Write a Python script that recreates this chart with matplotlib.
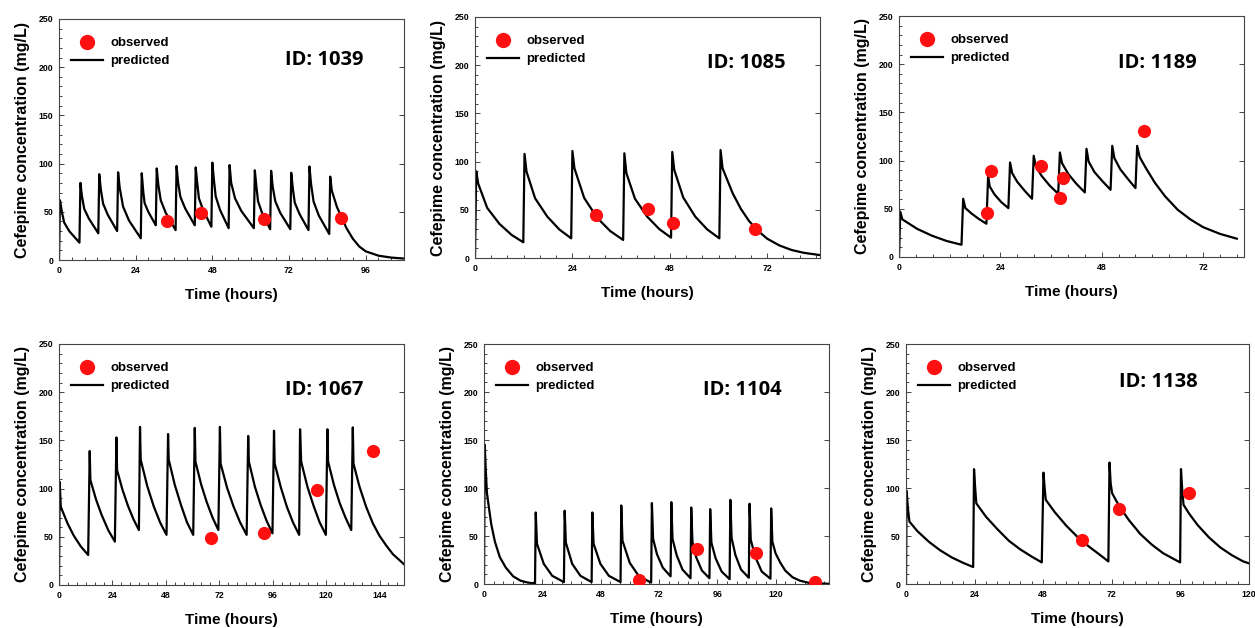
import matplotlib
matplotlib.use('Agg')
import matplotlib.pyplot as plt
from matplotlib.lines import Line2D
from matplotlib.ticker import MultipleLocator, AutoMinorLocator

# predicted curves (time in hours, concentration in mg/L)
t_1039 = [0, 0.3, 0.9, 1.6, 3.2, 6.4,
          6.7, 7.2, 7.9, 9.35, 12.3,
          12.6, 13.1, 13.8, 15.25, 18.2,
          18.5, 19.0, 20.05, 21.9, 25.6,
          25.9, 26.4, 26.8, 27.95, 30.3,
          30.6, 31.1, 31.85, 33.4, 36.5,
          36.8, 37.3, 38.0, 39.5, 42.5,
          42.8, 43.3, 43.8, 45.1, 47.7,
          48.0, 48.5, 49.05, 50.4, 53.1,
          53.4, 53.9, 55.1, 57.05, 61.0,
          61.3, 61.8, 62.3, 63.55, 66.1,
          66.4, 66.9, 67.7, 69.25, 72.4,
          72.7, 73.2, 73.8, 75.25, 78.1,
          78.4, 78.9, 79.7, 81.35, 84.6,
          84.9, 85.4, 87, 88.5, 90, 92, 94, 96, 100, 104, 108]
c_1039 = [0, 62, 50, 39, 30, 18,
          80, 66, 53, 43, 27.7,
          89, 73, 58.5, 47, 30,
          91, 75, 55.5, 41, 22.5,
          90, 70, 59, 50, 36,
          95, 78, 62, 49, 31,
          97.5, 80, 65.5, 53.5, 36,
          96, 79, 64, 52, 34.5,
          101, 83, 66, 52, 33,
          98.5, 80, 64, 51, 33,
          93, 76, 61, 49, 32,
          92.5, 76, 61, 49, 32,
          90.5, 74, 59.5, 48, 31,
          97, 79, 60.5, 46, 27,
          86.5, 72, 55, 44, 33, 22, 14, 9, 4.5, 2.5, 1.5]
obs_t_1039 = [33.9, 44.5, 64.3, 88.3]
obs_c_1039 = [40.5, 48.4, 42.5, 43.9]

t_1085 = [0, 0.3, 0.8, 3.0, 6.0, 9.0, 11.9,
          12.2, 12.7, 14.8, 17.8, 20.8, 23.7,
          24.0, 24.5, 26.9, 30.1, 33.3, 36.5,
          36.8, 37.3, 39.4, 42.4, 45.4, 48.3,
          48.6, 49.1, 51.3, 54.25, 57.2, 60.2,
          60.5, 61.0, 63.5, 65.5, 67.5, 69.5, 72, 75, 78, 81, 85]
c_1085 = [0, 90, 77, 52, 35.5, 24, 16.3,
          108, 89.5, 62, 43, 29.5, 20.4,
          111, 93, 62.3, 41.7, 28, 18.7,
          108.6, 88, 61.6, 43, 30, 21.1,
          110, 91.3, 62.8, 43, 29.7, 20.4,
          112, 93, 67, 51, 38.5, 29, 20, 13, 8.3, 5.4, 3]
obs_t_1085 = [29.8, 42.5, 48.7, 68.9]
obs_c_1085 = [44.6, 50.8, 36.6, 30.0]

t_1189 = [0, 0.3, 0.8, 4.3, 7.8, 11.3, 14.8,
          15.2, 15.7, 17.2, 18.9, 20.7,
          21.1, 21.5, 22.6, 24.2, 25.9,
          26.3, 26.8, 28.0, 29.7, 31.5,
          31.9, 32.4, 33.8, 35.7, 37.7,
          38.1, 38.6, 40.1, 42.0, 44.0,
          44.4, 44.9, 46.3, 48.2, 50.1,
          50.5, 51.0, 52.4, 54.2, 56.0,
          56.4, 57.0, 58.5, 60.6, 63, 66, 69, 72, 76, 80]
c_1189 = [0, 47, 39, 29.2, 22.1, 16.6, 12.7,
          60.4, 50.8, 45, 39.5, 34.5,
          83.5, 73, 65, 57, 50.7,
          98, 87, 78, 69, 60.4,
          105, 94, 84, 74, 65.6,
          108.4, 97.4, 86, 76, 67,
          112.2, 99, 88, 78.5, 69.7,
          115.3, 102.6, 91, 81, 71.5,
          115.3, 103.6, 92, 77, 63, 49, 39, 31, 24, 19]
obs_t_1189 = [21.7, 20.9, 33.7, 38.2, 38.9, 58.1]
obs_c_1189 = [89.4, 45.6, 93.9, 61.1, 81.9, 130.2]

t_1067 = [0, 0.3, 0.8, 3.9, 6.6, 9.8, 13.1,
          13.8, 14.1, 16.6, 19.1, 22.1, 25.1,
          25.8, 26.1, 28.5, 31.0, 33.5, 35.9,
          36.4, 36.7, 39.6, 42.5, 45.4, 48.3,
          49.0, 49.3, 52.0, 54.8, 57.5, 60.3,
          61.0, 61.3, 63.9, 66.4, 69.0, 71.6,
          72.3, 72.6, 75.5, 78.4, 81.3, 84.3,
          85.0, 85.3, 88.0, 90.6, 93.2, 95.9,
          96.6, 96.9, 99.7, 102.4, 105.1, 107.9,
          108.3, 108.8, 111.6, 114.4, 117.1, 119.9,
          120.6, 120.9, 123.5, 126.1, 128.7, 131.3,
          132.0, 132.3, 135, 138, 141, 144, 147, 150, 155]
c_1067 = [0, 107, 81, 63.6, 51.3, 40, 31.1,
          139, 109, 89, 73, 57, 45,
          153, 119, 99, 82, 68, 57,
          164, 130, 103, 82, 65, 52,
          156.6, 130, 104, 83, 65, 52,
          163, 128, 104, 85.8, 69.9, 57,
          164, 126, 101, 81.5, 65.3, 52,
          154.6, 128, 102, 83, 67, 53.6,
          160, 126, 101, 81, 65, 52,
          161.5, 128, 102, 82, 65, 52,
          161.5, 128, 104, 85, 70, 57,
          163.5, 126, 102, 81, 64, 51, 41, 32, 21.5]
obs_t_1067 = [68.3, 92.1, 116.1, 140.9]
obs_c_1067 = [48.4, 53.6, 98.5, 139.3]

t_1104 = [0, 0.3, 0.7, 1.2, 2, 3, 4.5, 6.5, 9, 12, 15, 18, 21.0,
          21.3, 21.8, 24.6, 28.1, 32.9,
          33.2, 33.7, 36.3, 39.7, 44.3,
          44.6, 45.1, 47.9, 51.4, 56.2,
          56.5, 57.0, 60.0, 63.8, 68.8,
          69.1, 69.6, 71.2, 73.6, 76.8,
          77.1, 77.6, 79.3, 81.7, 85.0,
          85.3, 85.8, 87.3, 89.7, 92.8,
          93.1, 93.6, 95.3, 97.8, 101.1,
          101.4, 101.9, 103.5, 105.8, 109.0,
          109.3, 109.8, 111.7, 114.3, 117.9,
          118.2, 118.7, 120, 122, 124, 127, 130, 134, 142]
c_1104 = [0, 145, 120, 95, 80, 62, 44, 28, 17, 8, 3.5, 1.5, 0.5,
          74.5, 42, 21, 8.5, 2,
          76.3, 43, 21, 8.5, 2,
          74.5, 42, 21, 8.5, 2,
          81.8, 45, 22, 8, 1.5,
          84.3, 47, 31, 17, 8,
          85.3, 47, 30, 15, 6,
          79.7, 44, 28, 14, 6,
          78.0, 43, 27, 13, 5,
          87.7, 48, 30, 15, 6.5,
          83.6, 46, 28, 13, 5.5,
          78.7, 44, 32, 22, 14, 7, 3.5, 1, 0.2]
obs_t_1104 = [63.8, 87.6, 111.8, 136.3]
obs_c_1104 = [4.5, 36.7, 32.3, 1.7]

t_1138 = [0, 0.2, 0.7, 1.2, 4, 8, 12, 16, 20, 23.5,
          23.8, 24.2, 24.6, 28, 32, 36, 40, 44, 47.5,
          48.1, 48.5, 48.9, 52, 56, 60, 64, 68, 70.8,
          71.2, 71.6, 72.1, 74.6, 78, 82, 86, 90, 95.9,
          96.2, 96.6, 97.1, 99, 102, 106, 110, 114, 118, 120]
c_1138 = [0, 97, 78, 65, 55, 44, 35, 27.7, 22, 17.7,
          119.6, 100, 84, 70, 57, 45, 36, 28.5, 22.5,
          116, 100, 87.7, 75, 61, 49, 39, 30, 23.5,
          126.5, 105, 94.7, 81, 66.5, 52, 41, 32, 22.5,
          119.7, 100, 82.5, 73.5, 61.5, 48.5, 38, 30, 23.5, 21.5]
obs_t_1138 = [61.5, 74.6, 99.1]
obs_c_1138 = [46.0, 78.0, 94.7]

ids = ['1039', '1085', '1189', '1067', '1104', '1138']
x_max = [108, 85, 81.7, 155, 142, 120]
x_ticks = [[0, 24, 48, 72, 96], [0, 24, 48, 72], [0, 24, 48, 72],
           [0, 24, 48, 72, 96, 120, 144], [0, 24, 48, 72, 96, 120],
           [0, 24, 48, 72, 96, 120]]

curves = [(t_1039, c_1039), (t_1085, c_1085), (t_1189, c_1189),
          (t_1067, c_1067), (t_1104, c_1104), (t_1138, c_1138)]
observed = [(obs_t_1039, obs_c_1039), (obs_t_1085, obs_c_1085),
            (obs_t_1189, obs_c_1189), (obs_t_1067, obs_c_1067),
            (obs_t_1104, obs_c_1104), (obs_t_1138, obs_c_1138)]

# axes boxes in pixels: left, right, top, bottom
W, H = 1255, 628
boxes = [(59, 404, 19, 260), (475, 820, 17, 258), (899, 1244, 16, 257),
         (59, 404, 344, 585), (484, 829, 344, 584), (906, 1249, 344, 584)]
id_pos = [(0.77, 0.83), (0.785, 0.81), (0.75, 0.805),
          (0.77, 0.81), (0.75, 0.81), (0.735, 0.84)]

plt.rcParams['font.family'] = ['Liberation Sans', 'DejaVu Sans']
plt.rcParams['font.weight'] = 'bold'

fig = plt.figure(figsize=(W / 100, H / 100), dpi=100)
frame = '#444444'

for i in range(6):
    l, r, t, b = boxes[i]
    ax = fig.add_axes([l / W, 1 - b / H, (r - l) / W, (b - t) / H])
    ax.plot(curves[i][0], curves[i][1], color='black', lw=1.6, zorder=2)
    ax.plot(observed[i][0], observed[i][1], 'o', color='#ff1010', ms=9.5,
            mec='none', zorder=3)

    ax.set_xlim(0, x_max[i])
    ax.set_ylim(0, 250)
    ax.set_xticks(x_ticks[i])
    ax.yaxis.set_major_locator(MultipleLocator(50))
    ax.xaxis.set_minor_locator(AutoMinorLocator(6))
    ax.yaxis.set_minor_locator(AutoMinorLocator(5))
    ax.tick_params(which='both', direction='in', colors=frame, labelcolor='black',
                   labelsize=6.3, width=0.7)
    ax.tick_params(which='major', length=3.5, pad=4)
    ax.tick_params(which='minor', length=2)
    ax.tick_params(axis='y', which='major', right=True)
    for lab in ax.get_xticklabels() + ax.get_yticklabels():
        lab.set_fontweight('bold')
    for sp in ax.spines.values():
        sp.set_color(frame)
        sp.set_linewidth(0.8)

    ax.set_xlabel('Time (hours)', fontsize=11, fontweight='bold', labelpad=10)
    ax.set_ylabel('Cefepime concentration (mg/L)', fontsize=11.5,
                  fontweight='bold', labelpad=6)

    handles = [Line2D([], [], ls='none', marker='o', color='#ff1010', ms=11, mec='none'),
               Line2D([], [], color='black', lw=1.6)]
    ax.legend(handles, ['observed', 'predicted'], loc='upper left',
              bbox_to_anchor=(0.035, 0.925), frameon=False,
              prop={'size': 9.5, 'weight': 'bold'}, handlelength=2.4,
              handletextpad=0.6, labelspacing=0.45, borderaxespad=0,
              borderpad=0)

    ax.text(id_pos[i][0], id_pos[i][1], 'ID: ' + ids[i], transform=ax.transAxes,
            ha='center', va='center', fontsize=14.5, fontweight='bold',
            family=['Open Sans', 'DejaVu Sans'])

fig.savefig('out.png', dpi=100)
